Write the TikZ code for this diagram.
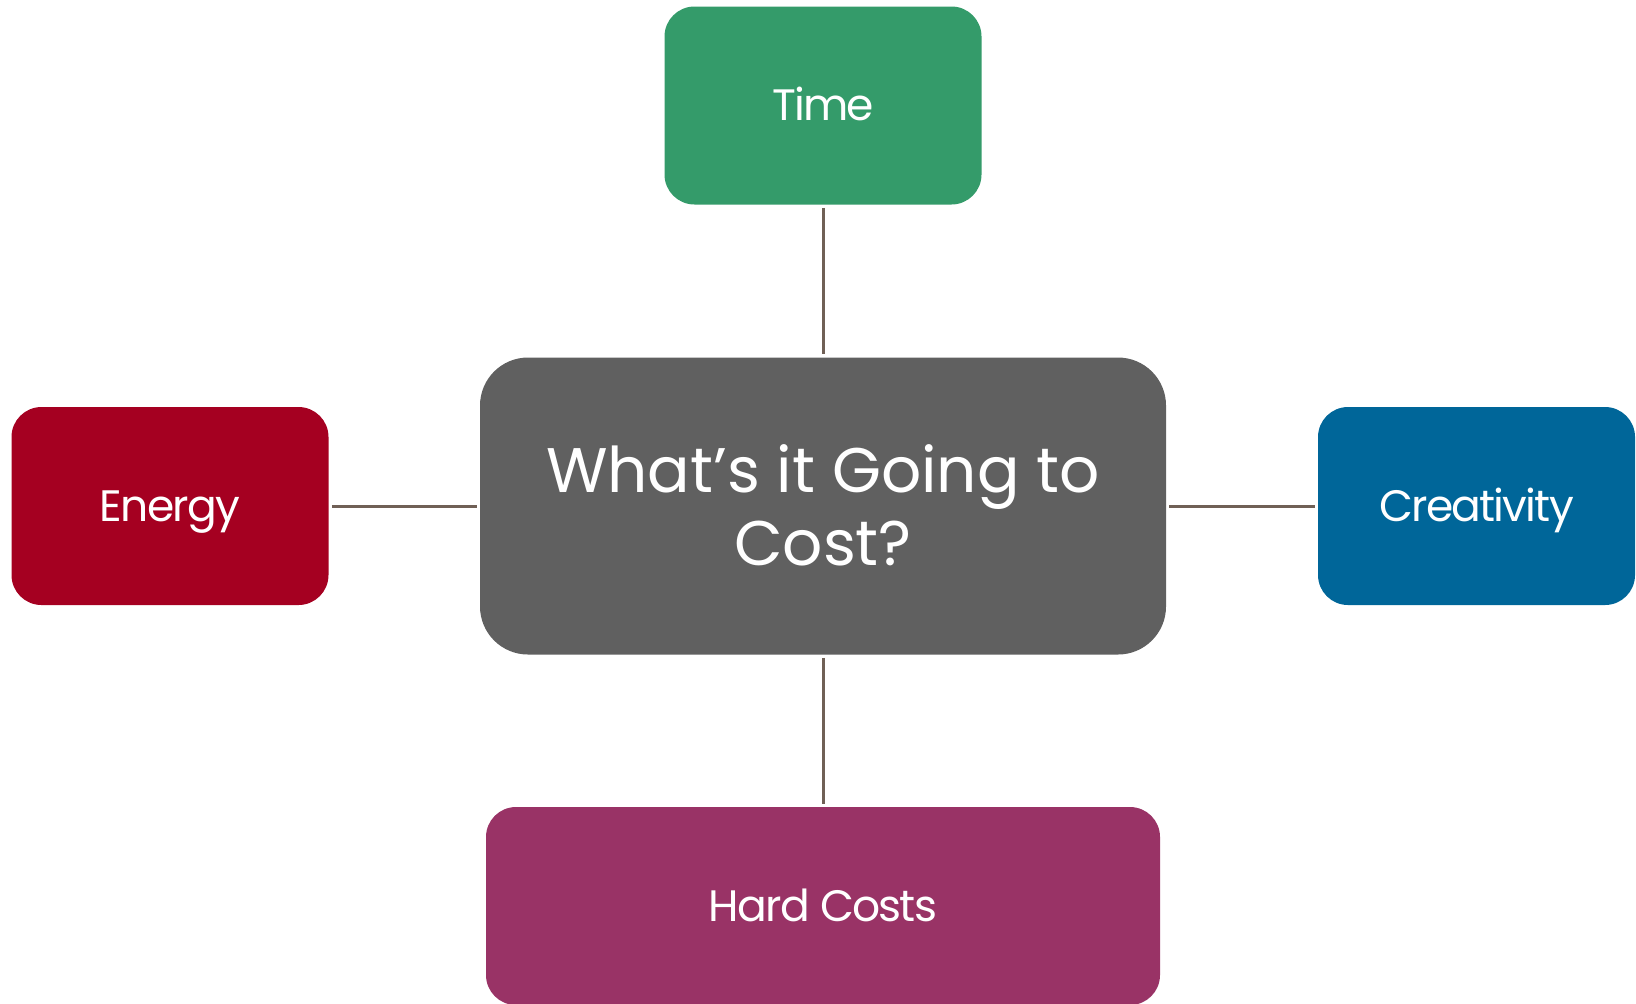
\documentclass[tikz,border=0pt]{standalone}
\usepackage{fontspec}
\setmainfont{Poppins}
\definecolor{timegreen}{RGB}{52,155,106}
\definecolor{energyred}{RGB}{165,0,33}
\definecolor{creablue}{RGB}{0,102,153}
\definecolor{hardplum}{RGB}{153,51,102}
\definecolor{hubgray}{RGB}{96,96,96}
\definecolor{linkbrown}{RGB}{112,96,86}
\begin{document}
\begin{tikzpicture}[x=0.5pt,y=-0.5pt,
  card/.style={rectangle, rounded corners=15pt, inner sep=0pt,
    minimum width=158.5pt, minimum height=99pt, text=white,
    font=\fontsize{22}{27}\selectfont\addfontfeatures{LetterSpace=-4},
    text height=15.4pt, text depth=0pt},
  hub/.style={rectangle, rounded corners=24pt, inner sep=0pt,
    minimum width=343pt, minimum height=148.5pt, fill=hubgray},
  hubtext/.style={text=white, align=center, inner sep=0pt,
    font=\fontsize{31.5}{36.5}\selectfont},
  link/.style={draw=linkbrown, line width=1.5pt, shorten <=1.5pt, shorten >=1.5pt}]
\useasboundingbox (0,0) rectangle (1636,1003);
\begin{scope}
\clip (0,0) rectangle (1636,1003);
% central question
\node[hub] (hub) at (823,506) {};
\node[hubtext] (hubtext) at (823,505) {What’s it Going to\\Cost?};
% surrounding cost categories
\node[card, fill=timegreen] (time) at (823,105.5) {Time};
\node[card, fill=energyred] (energy) at (170,506) {Energy};
\node[card, fill=creablue] (creativity) at (1476.5,506) {Creativity};
\node[card, fill=hardplum, minimum width=337pt] (hard) at (823,906) {Hard Costs};
% connectors
\draw[link] (time.south) -- (hub.north);
\draw[link] (energy.east) -- (hub.west);
\draw[link] (hub.east) -- (creativity.west);
\draw[link] (hub.south) -- (hard.north);
\end{scope}
\end{tikzpicture}
\end{document}
